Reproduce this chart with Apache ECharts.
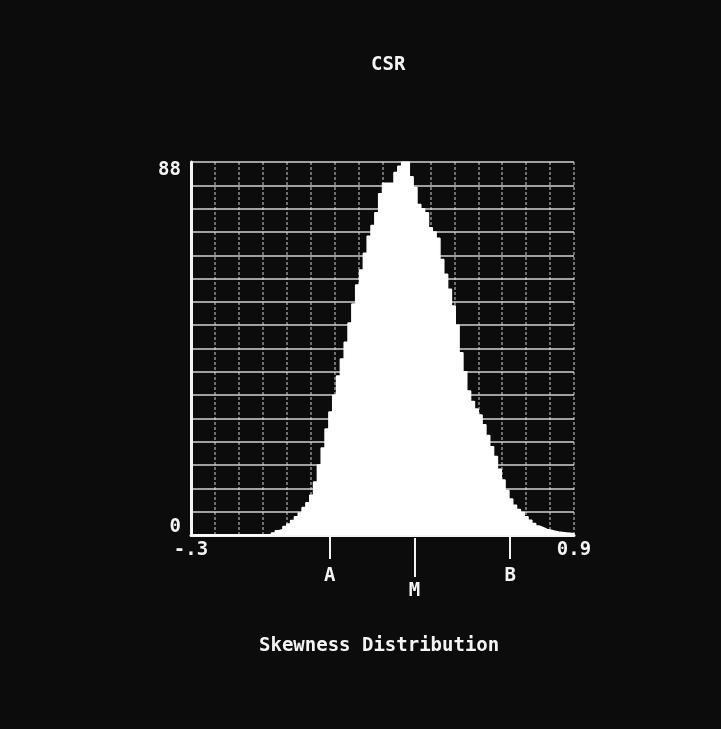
<!DOCTYPE html>
<html>
<head>
<meta charset="utf-8">
<script src="https://cdn.jsdelivr.net/npm/echarts@6/dist/echarts.min.js"></script>
<style>
  html, body { margin: 0; padding: 0; background: #0c0c0c; }
  #chart { width: 721px; height: 729px; }
</style>
</head>
<body>
<div id="chart"></div>
<script>
// ---- data ----
const chartTitle = 'CSR';
const axisTitle = 'Skewness Distribution';
const xMin = -0.3;
const xMax = 0.9;
const binWidth = 0.012;
// histogram counts for 100 bins from -0.3 to 0.9
const counts = [
  0, 0, 0, 0, 0, 0, 0, 0, 0, 0,
  0, 0, 0, 0, 0, 0, 0, 0, 0, 0,
  0, 0.5, 1, 1.3, 2, 2.6, 3.4, 4.3, 5.2, 6.5,
  7.6, 9.4, 12.5, 16.5, 20.5, 25, 29, 33, 37.5, 41.5,
  45.5, 50, 54.5, 59, 62.5, 66.5, 70.5, 73, 76, 80.5,
  83, 83, 83, 85.5, 87, 88, 88, 84.5, 82, 78,
  77, 76, 72.5, 71.5, 70, 65, 61.5, 58, 54, 49.5,
  43, 38.5, 34, 31.5, 29.7, 28.3, 26, 23.5, 20.8, 18.5,
  15.5, 13, 10.5, 8.5, 7, 6, 5.3, 4.3, 3.5, 2.7,
  2.1, 1.7, 1.3, 1.1, 0.9, 0.7, 0.6, 0.5, 0.4, 0.3
];
const yMax = 88;
const xTickValues = [-0.3, 0.9];
const xTickLabels = ['-.3', '0.9'];
const yTickValues = [0, 88];
const yTickLabels = ['0\n', '\n88'];
const markerShortValues = [0.135, 0.7];
const markerShortLabels = ['A', 'B'];
const markerLongValues = [0.4];
const markerLongLabels = ['M'];

// ---- build ----
function lookup(values, labels) {
  return function (v) {
    for (let k = 0; k < values.length; k++) {
      if (Math.abs(values[k] - v) < 1e-9) return labels[k];
    }
    return '';
  };
}

const stepData = counts.map((c, i) => [xMin + i * binWidth, c]);
stepData.push([xMax, 0]);

const FONT = '"DejaVu Sans Mono", "Liberation Mono", monospace';
const txt = { color: '#f4f4f4', fontFamily: FONT, fontWeight: 'bold', fontSize: 19 };

const chart = echarts.init(document.getElementById('chart'), null, { renderer: 'canvas' });
chart.setOption({
  backgroundColor: '#0c0c0c',
  animation: false,
  title: [
    { text: chartTitle, left: 366, top: 51, textStyle: Object.assign({}, txt) },
    { text: axisTitle, left: 254, top: 632, textStyle: Object.assign({}, txt) }
  ],
  grid: { left: 191, right: 147, top: 162, bottom: 194, containLabel: false },
  xAxis: [
    {
      type: 'value', min: xMin, max: xMax, interval: 0.075,
      axisLine: { show: true, onZero: false, lineStyle: { color: '#f4f4f4', width: 3 } },
      axisTick: { show: false },
      splitLine: { show: true, lineStyle: { color: 'rgba(230,230,230,0.6)', width: 1.5, type: [3, 2] } },
      axisLabel: Object.assign({ customValues: xTickValues, formatter: lookup(xTickValues, xTickLabels), margin: 6 }, txt)
    },
    {
      type: 'value', min: xMin, max: xMax, position: 'bottom', offset: 3,
      axisLine: { show: false },
      splitLine: { show: false },
      axisTick: { show: true, customValues: markerShortValues, length: 24, lineStyle: { color: '#f4f4f4', width: 2 } },
      axisLabel: Object.assign({ customValues: markerShortValues, formatter: lookup(markerShortValues, markerShortLabels), margin: 29 }, txt)
    },
    {
      type: 'value', min: xMin, max: xMax, position: 'bottom', offset: 3,
      axisLine: { show: false },
      splitLine: { show: false },
      axisTick: { show: true, customValues: markerLongValues, length: 39, lineStyle: { color: '#f4f4f4', width: 2 } },
      axisLabel: Object.assign({ customValues: markerLongValues, formatter: lookup(markerLongValues, markerLongLabels), margin: 44 }, txt)
    }
  ],
  yAxis: {
    type: 'value', min: 0, max: yMax, interval: 5.5,
    axisLine: { show: true, onZero: false, lineStyle: { color: '#f4f4f4', width: 3 } },
    axisTick: { show: false },
    splitLine: { show: true, lineStyle: { color: 'rgba(245,245,245,0.85)', width: 1.5 } },
    axisLabel: Object.assign({ customValues: yTickValues, formatter: lookup(yTickValues, yTickLabels), margin: 10, lineHeight: 16 }, txt)
  },
  series: [{
    type: 'line',
    xAxisIndex: 0,
    data: stepData,
    step: 'end',
    symbol: 'none',
    lineStyle: { color: '#ffffff', width: 1.5 },
    areaStyle: { color: '#ffffff', opacity: 1 }
  }]
});
</script>
</body>
</html>
